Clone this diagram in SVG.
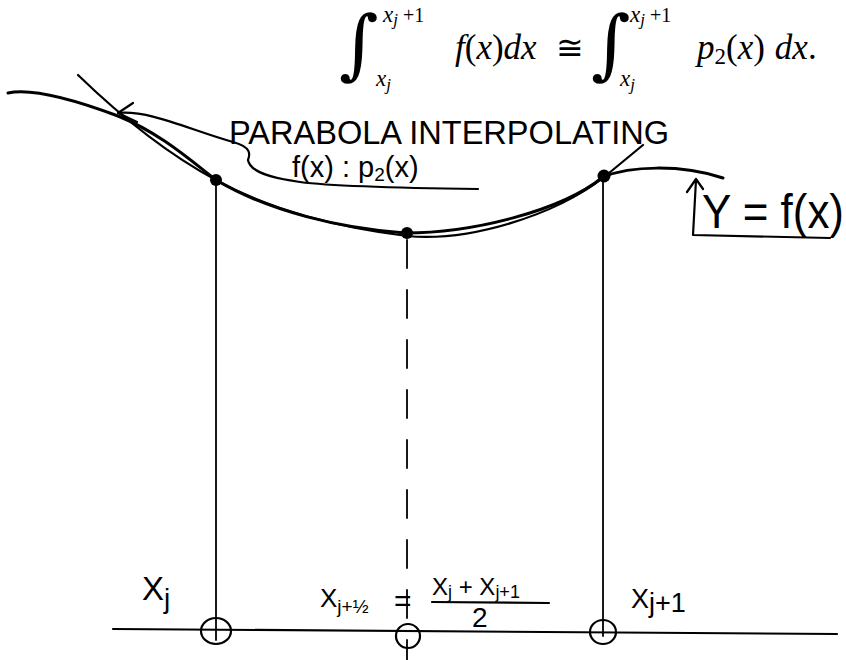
<svg xmlns="http://www.w3.org/2000/svg" width="846" height="660" viewBox="0 0 846 660">
<style>
.ink{fill:none;stroke:#000;stroke-linecap:round;stroke-linejoin:round}
.thick{stroke-width:3}
.med{stroke-width:2.2}
.thin{stroke-width:1.8}
.hand{font-family:"Liberation Sans","DejaVu Sans",sans-serif;fill:#000}
.math{font-family:"Liberation Serif","DejaVu Serif",serif;fill:#000}
.it{font-style:italic}
.int{font-family:"DejaVu Serif","Liberation Serif",serif;fill:#000}
</style>
<rect width="846" height="660" fill="#fff"/>
<g id="formula">
  <text class="int" x="339" y="70" font-size="76">∫</text>
  <text class="math it" x="383" y="22" font-size="23">x<tspan font-size="17" dy="3">j</tspan><tspan font-style="normal" font-size="20" dy="-3"> +1</tspan></text>
  <text class="math it" x="376" y="86" font-size="23">x<tspan font-size="17" dy="4">j</tspan></text>
  <text class="math" x="455" y="59" font-size="35"><tspan class="it">f</tspan>(<tspan class="it">x</tspan>)<tspan class="it">dx</tspan></text>
  <text class="math" x="556" y="59" font-size="33">≅</text>
  <text class="int" x="591" y="70" font-size="76">∫</text>
  <text class="math it" x="630" y="22" font-size="23">x<tspan font-size="17" dy="3">j</tspan><tspan font-style="normal" font-size="20" dy="-3"> +1</tspan></text>
  <text class="math it" x="620" y="86" font-size="23">x<tspan font-size="17" dy="4">j</tspan></text>
  <text class="math" x="697" y="59" font-size="35"><tspan class="it">p</tspan><tspan font-size="23" dy="5">2</tspan><tspan dy="-5">(</tspan><tspan class="it">x</tspan>)<tspan class="it" dx="10">dx</tspan>.</text>
</g>
<g id="connectors">
  <path id="fcurve" class="ink thick" d="M8,93 C30,88 70,98 118,116 C160,133 190,160 216,180 C270,212 340,228 405,233 C470,233 560,212 603,177 C630,166 680,164 723,178"/>
  <path id="parabola" class="ink med" d="M78,75 C110,106 160,150 216,180 C270,210 340,228 407,236 C470,242 555,215 603,178 L643,145"/>
  <line class="ink thin" x1="216" y1="180" x2="216" y2="640"/>
  <line class="ink thin" x1="407" y1="240" x2="407" y2="660" stroke-dasharray="28 22"/>
  <line class="ink thin" x1="603" y1="177" x2="603" y2="636"/>
  <path id="axis" class="ink med" d="M113,629 L837,634"/>
  <path id="label-pointer" class="ink med" d="M118,113 C150,110 190,130 233,142 C252,147 250,155 248,160 C250,172 270,178 300,182 C330,186 400,188 478,189"/>
  <path class="ink med" d="M133,103 L118,113 L137,122"/>
  <path id="y-pointer" class="ink med" d="M693,235 L696,180 M687,192 L696,179 L703,189 M693,235 L830,238"/>
</g>
<g id="node-left">
  <circle cx="216" cy="180" r="6" fill="#000"/>
  <ellipse class="ink med" cx="216" cy="631" rx="15" ry="13"/>
</g>
<g id="node-mid">
  <circle cx="407" cy="233" r="6" fill="#000"/>
  <circle class="ink med" cx="408" cy="636" r="12"/>
</g>
<g id="node-right">
  <circle cx="604" cy="176" r="6.5" fill="#000"/>
  <ellipse class="ink med" cx="603" cy="632" rx="13" ry="12"/>
</g>
<g id="labels">
  <text class="hand" x="229" y="144" font-size="33" textLength="440" lengthAdjust="spacingAndGlyphs">PARABOLA  INTERPOLATING</text>
  <text class="hand" x="292" y="177" font-size="29">f(x) : p<tspan font-size="19" dy="4">2</tspan><tspan dy="-4">(x)</tspan></text>
  <text class="hand" x="702" y="228" font-size="48" textLength="142" lengthAdjust="spacingAndGlyphs">Y = f(x)</text>
  <text class="hand" x="142" y="600" font-size="33">X<tspan font-size="28" dy="8">j</tspan></text>
  <text class="hand" x="320" y="607" font-size="26">X<tspan font-size="19" dy="6">j+½</tspan></text>
  <text class="hand" x="394" y="611" font-size="30">=</text>
  <text class="hand" x="432" y="595" font-size="24">X<tspan font-size="18" dy="3">j</tspan><tspan dy="-3"> + X</tspan><tspan font-size="18" dy="3">j+1</tspan></text>
  <line class="ink med" x1="432" y1="602" x2="549" y2="603"/>
  <text class="hand" x="472" y="627" font-size="28">2</text>
  <text class="hand" x="631" y="608" font-size="27">X<tspan font-size="27" dy="4">j+1</tspan></text>
</g>
</svg>
